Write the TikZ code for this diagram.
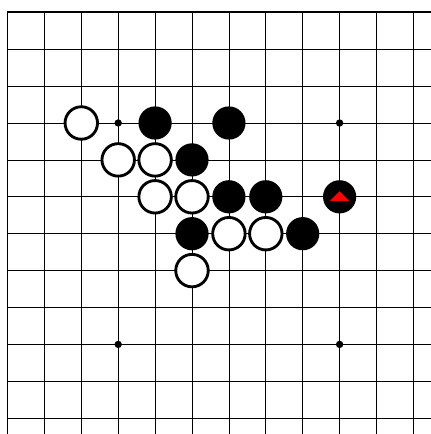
\documentclass[tikz,border=0pt]{standalone}
\begin{document}
\begin{tikzpicture}[x=1cm,y=-1cm,line cap=round,line join=round,
  wstone/.style={draw=black,fill=white,line width=2.2pt},
  bstone/.style={fill=black}]
  \useasboundingbox (-0.203,-0.333) rectangle (11.450,11.428);
  % grid
  \foreach \i in {1,...,11} {
    \draw[line width=0.6pt] (\i,0) -- (\i,11.45);
    \draw[line width=0.6pt] (0,\i) -- (11.47,\i);
  }
  \draw[line width=1.4pt,line cap=butt,line join=miter] (0,11.45) -- (0,0) -- (11.47,0);
  % hoshi
  \foreach \p in {(3,3),(9,3),(3,9),(9,9)}
    \fill \p circle (0.1);
  % stones
  \foreach \p in {(4,3),(6,3),(5,4),(6,5),(7,5),(9,5),(5,6),(8,6)}
    \fill[bstone] \p circle (0.45);
  \foreach \p in {(2,3),(3,4),(4,4),(4,5),(5,5),(6,6),(7,6),(5,7)}
    \draw[wstone] \p circle (0.44);
  % last move
  \fill[red] (8.73,5.12) -- (9.27,5.12) -- (9,4.85) -- cycle;
\end{tikzpicture}
\end{document}
